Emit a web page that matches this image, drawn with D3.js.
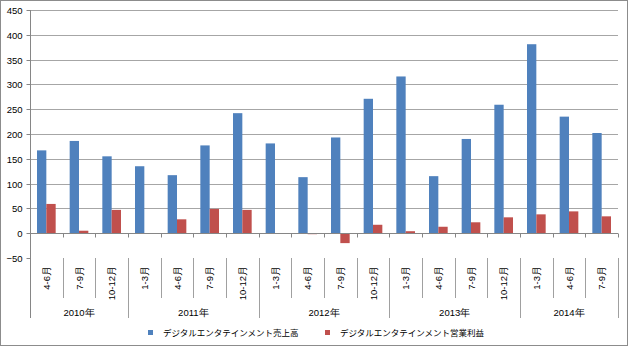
<!DOCTYPE html>
<html><head><meta charset="utf-8">
<script src="https://cdn.jsdelivr.net/npm/d3@7"></script>
<style>html,body{margin:0;padding:0;background:#fff;}svg{display:block;}</style>
</head><body>
<svg id="c" width="630" height="347"></svg>
<script>
const years = ["2010年","2011年","2012年","2013年","2014年"];
const yearQuarters = [
  ["4-6月","7-9月","10-12月"],
  ["1-3月","4-6月","7-9月","10-12月"],
  ["1-3月","4-6月","7-9月","10-12月"],
  ["1-3月","4-6月","7-9月","10-12月"],
  ["1-3月","4-6月","7-9月"]
];
const salesValues  = [167,186,155,135,117,177,242,181,113,193,271,316,115,190,259,381,235,202];
const profitValues = [59,5,47,0,28,49,47,0,-2,-20,17,4,13,22,32,38,44,34];
const seriesNames = ["デジタルエンタテインメント売上高","デジタルエンタテインメント営業利益"];
const seriesColors = ["#4f81bd","#c0504d"];
const yTicks = [-50,0,50,100,150,200,250,300,350,400,450];

const cats = [];
yearQuarters.forEach((qs, yi) => qs.forEach(q => cats.push({year: years[yi], q})));
const keys = cats.map((d,i)=>i);

const svg = d3.select("#c");
const L = 30, R = 618, T = 10, B = 258;
const y = d3.scaleLinear().domain([-50,450]).range([B,T]);
const x = d3.scaleBand().domain(keys).range([L,R]).paddingInner(0).paddingOuter(0);
const xs = d3.scaleBand().domain([0,1]).range([0,x.bandwidth()]).paddingInner(0).paddingOuter(0.75);

const numFont = "'Liberation Sans', Arial, sans-serif";
const jpFont = "'Noto Sans CJK JP', sans-serif";

// border
svg.append("rect").attr("x",0.5).attr("y",0.5).attr("width",627).attr("height",345)
  .attr("fill","#fff").attr("stroke","#8c8c8c");

// gridlines
svg.append("g").selectAll("line").data(yTicks.filter(v=>v>-50)).join("line")
  .attr("x1",L).attr("x2",R)
  .attr("y1",d=>Math.round(y(d))+0.5).attr("y2",d=>Math.round(y(d))+0.5)
  .attr("stroke","#a6a6a6").attr("stroke-width",1);

// y axis
const yAxis = svg.append("g").attr("transform",`translate(${L+0.5},0)`)
  .call(d3.axisLeft(y).tickValues(yTicks).tickSize(4).tickPadding(4).tickFormat(d3.format("d")));
yAxis.select(".domain").remove();
yAxis.selectAll(".tick line").attr("stroke","#868686");
yAxis.selectAll(".tick").attr("transform",d=>`translate(0,${Math.round(y(d))+0.5})`);
yAxis.selectAll("text").attr("font-family",numFont).attr("font-size","9.5px").attr("fill","#000");
svg.append("line").attr("x1",L+0.5).attr("x2",L+0.5).attr("y1",T).attr("y2",318)
  .attr("stroke","#868686");

// bars
const bars = svg.append("g");
[salesValues, profitValues].forEach((vals, si) => {
  bars.selectAll(null).data(vals).join("rect")
    .attr("x",(d,i)=>x(i)+xs(si))
    .attr("width",xs.bandwidth())
    .attr("y",d=>y(Math.max(0,d)))
    .attr("height",d=>Math.abs(y(d)-y(0)))
    .attr("fill",seriesColors[si]);
});

// zero line with category ticks
const y0 = Math.round(y(0))+0.5;
svg.append("line").attr("x1",L).attr("x2",R).attr("y1",y0).attr("y2",y0).attr("stroke","#868686");
svg.append("g").selectAll("line").data(d3.range(1,cats.length+1)).join("line")
  .attr("x1",i=>Math.round(L + i*x.step())+0.5).attr("x2",i=>Math.round(L + i*x.step())+0.5)
  .attr("y1",y0).attr("y2",y0+4).attr("stroke","#868686");

// category label separators
const boundaries = [];
let acc = 0;
yearQuarters.forEach(qs => { acc += qs.length; boundaries.push(acc); });
const sep = svg.append("g");
d3.range(1,cats.length+1).forEach(i => {
  const isGroup = boundaries.includes(i);
  const xx = Math.round(L + i*x.step())+0.5;
  sep.append("line").attr("x1",xx).attr("x2",xx).attr("y1",B).attr("y2",isGroup?318:298)
    .attr("stroke","#a0a0a0");
});

// quarter labels (rotated)
svg.append("g").selectAll("text").data(cats).join("text")
  .attr("transform",(d,i)=>`translate(${x(i)+x.bandwidth()/2+3.5},266) rotate(-90)`)
  .attr("text-anchor","end")
  .attr("font-family",numFont).attr("font-size","9.5px").attr("fill","#000")
  .text(d=>d.q);

// year labels
let start = 0;
const yearG = svg.append("g");
yearQuarters.forEach((qs, yi) => {
  const x0 = L + start*x.step(), x1 = L + (start+qs.length)*x.step();
  yearG.append("text").attr("x",(x0+x1)/2).attr("y",315.5).attr("text-anchor","middle")
    .attr("font-family",numFont).attr("font-size","9.5px").attr("fill","#000")
    .text(years[yi]);
  start += qs.length;
});

// legend
const legendX = [148, 325];
const lg = svg.append("g");
seriesNames.forEach((name, si) => {
  lg.append("rect").attr("x",legendX[si]).attr("y",330).attr("width",5).attr("height",5)
    .attr("fill",seriesColors[si]);
  lg.append("text").attr("x",legendX[si]+15).attr("y",336)
    .attr("font-family",jpFont).attr("font-size","8.5px").attr("fill","#000")
    .text(name);
});
</script>
</body></html>
